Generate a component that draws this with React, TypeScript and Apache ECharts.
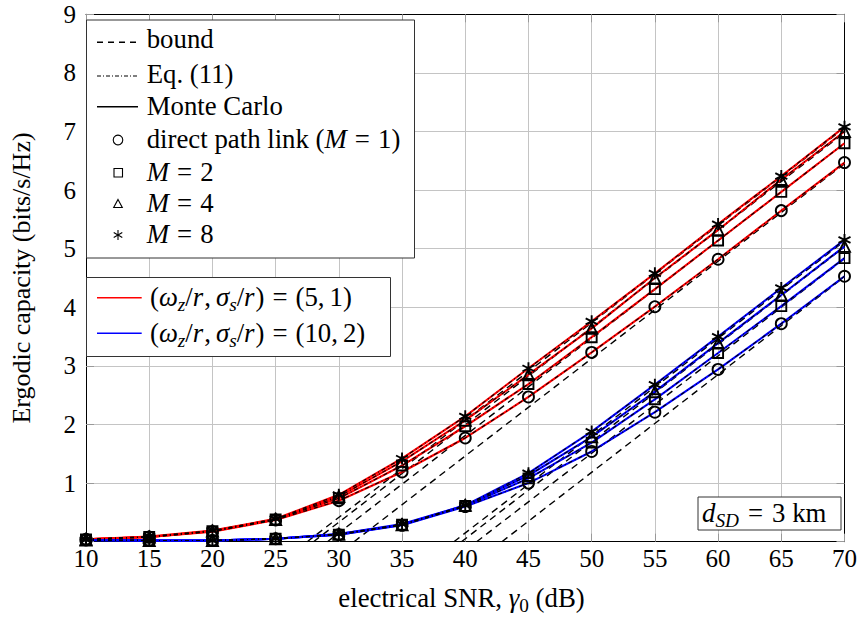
import React, { useEffect, useRef } from 'react';
import * as echarts from 'echarts';

// ---------- data ----------
const snr = [10, 15, 20, 25, 30, 35, 40, 45, 50, 55, 60, 65, 70];

// (omega_z/r, sigma_s/r) = (5,1)  -> red
const redM1 = [0.04, 0.08, 0.17, 0.37, 0.70, 1.19, 1.77, 2.47, 3.23, 4.01, 4.82, 5.65, 6.47];
const redM2 = [0.04, 0.08, 0.18, 0.38, 0.74, 1.30, 1.97, 2.69, 3.49, 4.31, 5.14, 5.97, 6.80];
const redM4 = [0.04, 0.08, 0.18, 0.38, 0.77, 1.37, 2.07, 2.85, 3.64, 4.50, 5.32, 6.18, 7.00];
const redM8 = [0.04, 0.09, 0.19, 0.39, 0.80, 1.42, 2.14, 2.96, 3.76, 4.58, 5.42, 6.24, 7.08];

// (omega_z/r, sigma_s/r) = (10,2) -> blue
const blueM1 = [0.03, 0.02, 0.02, 0.05, 0.12, 0.28, 0.60, 1.00, 1.54, 2.21, 2.94, 3.72, 4.53];
const blueM2 = [0.03, 0.02, 0.02, 0.05, 0.12, 0.29, 0.61, 1.08, 1.69, 2.43, 3.22, 4.02, 4.84];
const blueM4 = [0.03, 0.02, 0.02, 0.05, 0.13, 0.29, 0.62, 1.13, 1.79, 2.56, 3.39, 4.21, 5.04];
const blueM8 = [0.03, 0.02, 0.02, 0.05, 0.13, 0.30, 0.62, 1.17, 1.88, 2.68, 3.50, 4.33, 5.15];

// high-SNR bounds: straight lines from (start, 0) to (70, end)
const boundStartRed = [31.2, 29.1, 28.0, 27.5];
const boundEndRed = [6.45, 6.80, 6.98, 7.06];
const boundStartBlue = [42.9, 40.9, 39.7, 39.1];
const boundEndBlue = [4.52, 4.83, 5.03, 5.13];

const xMin = 10, xMax = 70, xStep = 5;
const yMin = 0, yMax = 9, yStep = 1;

// ---------- styling ----------
const FONT = 'Liberation Serif, Times New Roman, serif';
const STAR = 'path://M5,0L5,10M0.67,2.5L9.33,7.5M0.67,7.5L9.33,2.5';

let _ctx: CanvasRenderingContext2D | null = null;
function textWidth(t: string, size: number, italic: boolean) {
  if (!_ctx) _ctx = document.createElement('canvas').getContext('2d');
  if (!_ctx) return t.length * size * 0.5;
  _ctx.font = `${italic ? 'italic ' : ''}${size}px ${FONT}`;
  return _ctx.measureText(t).width;
}

type Seg = { t?: string; it?: boolean; sub?: boolean; gap?: number };
function mathLine(x0: number, base: number, size: number, segs: Seg[], align: 'left' | 'center' = 'left') {
  const items = segs.map((s) => {
    if (s.gap !== undefined) return { w: s.gap, s, fs: size };
    const fs = s.sub ? size * 0.72 : size;
    return { w: textWidth(s.t as string, fs, !!s.it), s, fs };
  });
  const total = items.reduce((a, b) => a + b.w, 0);
  let x = align === 'center' ? x0 - total / 2 : x0;
  const out: any[] = [];
  for (const it of items) {
    if (it.s.t) {
      const fs = it.fs;
      const bl = base + (it.s.sub ? size * 0.2 : 0);
      out.push({
        type: 'text',
        x,
        y: bl - 0.34 * fs,
        z: 102,
        silent: true,
        style: {
          text: it.s.t,
          fontSize: fs,
          fontFamily: FONT,
          fontStyle: it.s.it ? 'italic' : 'normal',
          fill: '#000',
          align: 'left',
          verticalAlign: 'middle',
          textAlign: 'left',
          textVerticalAlign: 'middle',
        },
      });
    }
    x += it.w;
  }
  return out;
}

function buildSeries() {
  const configs = [
    { color: '#ff0000', values: [redM1, redM2, redM4, redM8], bStart: boundStartRed, bEnd: boundEndRed },
    { color: '#0000ff', values: [blueM1, blueM2, blueM4, blueM8], bStart: boundStartBlue, bEnd: boundEndBlue },
  ];
  const symbols = ['circle', 'rect', 'triangle', STAR];
  const symbolSizes = [11, 10, 11, 12];
  const series: any[] = [];
  configs.forEach((c, ci) => {
    c.values.forEach((vals, i) => {
      series.push({
        name: `bound-${ci}-${i}`,
        type: 'line',
        data: [[c.bStart[i], 0], [xMax, c.bEnd[i]]],
        symbol: 'none',
        silent: true,
        z: 2,
        lineStyle: { color: '#000', width: 1.4, type: [7, 5] },
        emphasis: { disabled: true },
      });
    });
  });
  configs.forEach((c, ci) => {
    c.values.forEach((vals, i) => {
      const data = snr.map((x, j) => [x, vals[j]]);
      series.push({
        name: `mc-${ci}-${i}`,
        type: 'line',
        data,
        symbol: symbols[i],
        symbolSize: symbolSizes[i],
        showSymbol: true,
        silent: true,
        z: 3,
        lineStyle: { color: c.color, width: 2.1 },
        itemStyle: { color: 'rgba(0,0,0,0)', borderColor: '#000', borderWidth: 1.9 },
        emphasis: { disabled: true },
      });
      series.push({
        name: `eq-${ci}-${i}`,
        type: 'line',
        data,
        symbol: 'none',
        silent: true,
        z: 4,
        lineStyle: { color: '#000', width: 1.1, type: [4, 3, 1, 3] },
        emphasis: { disabled: true },
      });
    });
  });
  return series;
}

function buildGraphic() {
  const els: any[] = [];
  const Z = 100;
  // legend box 1
  els.push({ type: 'rect', z: Z, silent: true, shape: { x: 86.5, y: 20, width: 328, height: 238 }, style: { fill: '#fff', stroke: '#333', lineWidth: 1 } });
  els.push({ type: 'line', z: Z + 1, silent: true, shape: { x1: 97, y1: 42.3, x2: 138, y2: 42.3 }, style: { stroke: '#000', lineWidth: 1.4, lineDash: [6, 5] } });
  els.push({ type: 'line', z: Z + 1, silent: true, shape: { x1: 97, y1: 76, x2: 138, y2: 76 }, style: { stroke: '#000', lineWidth: 1.2, lineDash: [4, 2, 1, 2] } });
  els.push({ type: 'line', z: Z + 1, silent: true, shape: { x1: 97, y1: 106.7, x2: 138, y2: 106.7 }, style: { stroke: '#000', lineWidth: 1.5 } });
  const mk = { fill: 'none', stroke: '#000', lineWidth: 1.1 };
  els.push({ type: 'circle', z: Z + 1, silent: true, shape: { cx: 118, cy: 140, r: 4.8 }, style: mk });
  els.push({ type: 'rect', z: Z + 1, silent: true, shape: { x: 114, y: 168.5, width: 8.5, height: 8.5 }, style: mk });
  els.push({ type: 'polygon', z: Z + 1, silent: true, shape: { points: [[118, 199.5], [122.3, 207.5], [113.7, 207.5]] }, style: mk });
  els.push({ type: 'line', z: Z + 1, silent: true, shape: { x1: 118, y1: 230, x2: 118, y2: 240 }, style: mk });
  els.push({ type: 'line', z: Z + 1, silent: true, shape: { x1: 113.7, y1: 232.5, x2: 122.3, y2: 237.5 }, style: mk });
  els.push({ type: 'line', z: Z + 1, silent: true, shape: { x1: 113.7, y1: 237.5, x2: 122.3, y2: 232.5 }, style: mk });
  const tx = 146.7;
  const fs = 26.8;
  const eq: Seg[] = [{ gap: 8 }, { t: '=' }, { gap: 8 }];
  els.push(...mathLine(tx, 48, fs, [{ t: 'bound' }]));
  els.push(...mathLine(tx, 83, fs, [{ t: 'Eq. (11)' }]));
  els.push(...mathLine(tx, 115, fs, [{ t: 'Monte Carlo' }]));
  els.push(...mathLine(tx, 148, fs, [{ t: 'direct path link (' }, { t: 'M', it: true }, ...eq, { t: '1)' }]));
  els.push(...mathLine(tx, 181.5, fs, [{ t: 'M', it: true }, ...eq, { t: '2' }]));
  els.push(...mathLine(tx, 212, fs, [{ t: 'M', it: true }, ...eq, { t: '4' }]));
  els.push(...mathLine(tx, 243, fs, [{ t: 'M', it: true }, ...eq, { t: '8' }]));

  // legend box 2
  els.push({ type: 'rect', z: Z, silent: true, shape: { x: 86.5, y: 277.5, width: 304, height: 79 }, style: { fill: '#fff', stroke: '#333', lineWidth: 1 } });
  els.push({ type: 'line', z: Z + 1, silent: true, shape: { x1: 97, y1: 297.7, x2: 141.7, y2: 297.7 }, style: { stroke: '#ff0000', lineWidth: 1.6 } });
  els.push({ type: 'line', z: Z + 1, silent: true, shape: { x1: 97, y1: 333.3, x2: 141.7, y2: 333.3 }, style: { stroke: '#0000ff', lineWidth: 1.6 } });
  const paramSegs = (a: string, b: string): Seg[] => [
    { t: '(' }, { t: 'ω', it: true }, { t: 'z', it: true, sub: true }, { t: '/' }, { t: 'r', it: true }, { gap: 1 }, { t: ',' }, { gap: 5 },
    { t: 'σ', it: true }, { t: 's', it: true, sub: true }, { t: '/' }, { t: 'r', it: true }, { gap: 1 }, { t: ')' },
    ...eq, { t: '(' + a + ',' }, { gap: 5 }, { t: b + ')' },
  ];
  els.push(...mathLine(150, 306, fs, paramSegs('5', '1')));
  els.push(...mathLine(150, 342, fs, paramSegs('10', '2')));

  // d_SD box
  els.push({ type: 'rect', z: Z, silent: true, shape: { x: 698, y: 497, width: 143, height: 33 }, style: { fill: '#fff', stroke: '#333', lineWidth: 1 } });
  els.push(...mathLine(702, 522, fs, [{ t: 'd', it: true }, { t: 'SD', it: true, sub: true }, { gap: 9 }, { t: '=' }, { gap: 9 }, { t: '3 km' }]));

  // x axis title
  els.push(...mathLine(461.5, 607, fs, [{ t: 'electrical SNR, ' }, { t: 'γ', it: true }, { t: '0', sub: true }, { t: ' (dB)' }], 'center'));
  return els;
}

function buildOption() {
  const tick = { show: true, inside: true, length: 8, lineStyle: { color: '#999', width: 1 } };
  const label = { color: '#000', fontFamily: FONT, fontSize: 25 };
  return {
    animation: false,
    backgroundColor: '#fff',
    textStyle: { fontFamily: FONT },
    grid: { left: 77.5, right: 14.5, top: 14.3, bottom: 76.3, containLabel: false },
    xAxis: [
      {
        type: 'value', min: xMin, max: xMax, interval: xStep, position: 'bottom',
        axisLine: { show: true, onZero: false, lineStyle: { color: '#000', width: 1 } },
        axisTick: tick,
        axisLabel: { ...label, margin: 4, showMinLabel: true, showMaxLabel: true },
        splitLine: { show: true, lineStyle: { color: '#c4c4c4', width: 1 } },
      },
      {
        type: 'value', min: xMin, max: xMax, interval: xStep, position: 'top',
        axisLine: { show: true, onZero: false, lineStyle: { color: '#000', width: 1 } },
        axisTick: tick, axisLabel: { show: false }, splitLine: { show: false },
      },
    ],
    yAxis: [
      {
        type: 'value', min: yMin, max: yMax, interval: yStep, position: 'left',
        name: 'Ergodic capacity (bits/s/Hz)', nameLocation: 'middle', nameGap: 52, nameRotate: 90,
        nameTextStyle: { color: '#000', fontFamily: FONT, fontSize: 26 },
        axisLine: { show: true, onZero: false, lineStyle: { color: '#000', width: 1 } },
        axisTick: tick,
        axisLabel: { ...label, margin: 10, formatter: (v: number) => (v === 0 ? '' : String(v)) },
        splitLine: { show: true, lineStyle: { color: '#c4c4c4', width: 1 } },
      },
      {
        type: 'value', min: yMin, max: yMax, interval: yStep, position: 'right',
        axisLine: { show: true, onZero: false, lineStyle: { color: '#000', width: 1 } },
        axisTick: tick, axisLabel: { show: false }, splitLine: { show: false },
      },
    ],
    series: buildSeries(),
    graphic: { elements: buildGraphic() },
  };
}

export default function App() {
  const ref = useRef<HTMLDivElement>(null);
  useEffect(() => {
    if (!ref.current) return;
    const chart = echarts.init(ref.current, undefined, { renderer: 'svg' });
    chart.setOption(buildOption() as any);
    return () => chart.dispose();
  }, []);
  return <div ref={ref} style={{ position: 'fixed', left: 0, top: 0, width: 860, height: 618, background: '#fff' }} />;
}
